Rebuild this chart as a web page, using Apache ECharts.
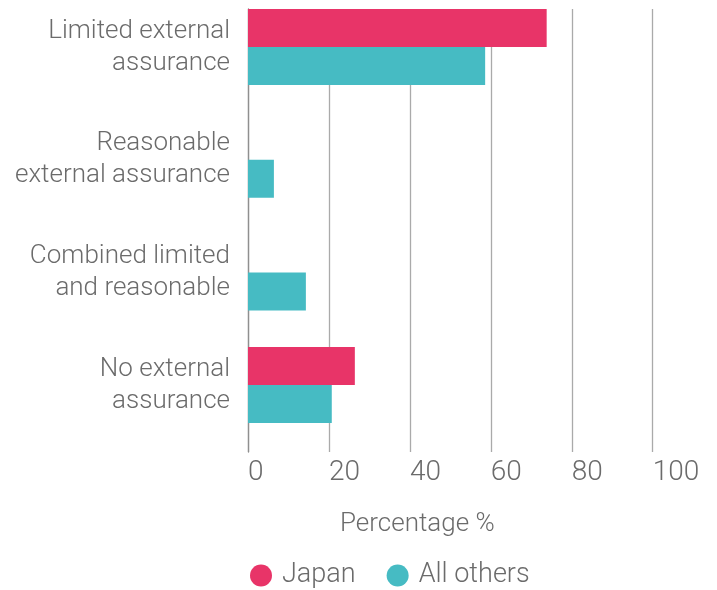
<!DOCTYPE html>
<html>
<head>
<meta charset="utf-8">
<script src="https://cdn.jsdelivr.net/npm/echarts@6/dist/echarts.min.js"></script>
<style>
html,body{margin:0;padding:0;background:#fff;overflow:hidden;}
#wrap{position:relative;width:717px;height:590px;overflow:hidden;}
#chart{position:absolute;left:0;top:-20px;width:717px;height:610px;}
</style>
</head>
<body>
<div id="wrap"><div id="chart"></div></div>
<script>
const categories = ['Limited external\nassurance', 'Reasonable\nexternal assurance', 'Combined limited\nand reasonable', 'No external\nassurance'];
const seriesNames = ['Japan', 'All others'];
const japanValues = [73.8, 0, 0, 26.4];
const othersValues = [58.6, 6.4, 14.3, 20.7];
const xTicks = [0, 20, 40, 60, 80, 100];

const FONT = 'Roboto';
const TEXT = '#6b6b6b';
const chart = echarts.init(document.getElementById('chart'), null, {renderer: 'canvas'});
chart.setOption({
  animation: false,
  color: ['#E83468', '#46BBC3'],
  title: {
    text: 'Percentage %', left: 335, top: 526,
    textStyle: {fontFamily: FONT, fontWeight: 300, fontSize: 26, color: TEXT}
  },
  legend: {
    data: seriesNames, left: 245, top: 577, icon: 'circle',
    itemWidth: 22, itemHeight: 22, itemGap: 31,
    textStyle: {fontFamily: FONT, fontWeight: 300, fontSize: 27, color: TEXT, padding: [0, 0, 0, 5]}
  },
  grid: [
    {left: 248, right: 64.3, top: 10.65, bottom: 148.55},
    {left: 248, right: 64.3, top: 29, bottom: 138}
  ],
  xAxis: [
    {gridIndex: 0, type: 'value', min: 0, max: 100, show: false},
    {gridIndex: 1, type: 'value', min: 0, max: 100, interval: 20,
      axisLine: {show: false}, axisTick: {show: false},
      splitLine: {show: true, lineStyle: {color: '#aaaaaa', width: 1.3}},
      axisLabel: {align: 'left', margin: 7, fontFamily: FONT, fontWeight: 300, fontSize: 28, color: TEXT,
        formatter: v => xTicks.includes(v) ? String(v) : ''}
    }
  ],
  yAxis: [
    {gridIndex: 0, type: 'category', data: categories, inverse: true,
      axisLine: {show: false}, axisTick: {show: false}, splitLine: {show: false},
      axisLabel: {margin: 18, fontFamily: FONT, fontWeight: 300, fontSize: 26, lineHeight: 32, color: TEXT, align: 'right'}
    },
    {gridIndex: 1, type: 'value', min: 0, max: 1,
      axisLine: {show: true, onZero: false, lineStyle: {color: '#8f8f8f', width: 1.3}},
      axisTick: {show: false}, axisLabel: {show: false}, splitLine: {show: false}
    }
  ],
  series: [
    {name: seriesNames[0], type: 'bar', xAxisIndex: 0, yAxisIndex: 0, data: japanValues, barWidth: 38, barGap: '0%', z: 5},
    {name: seriesNames[1], type: 'bar', xAxisIndex: 0, yAxisIndex: 0, data: othersValues, barWidth: 38, barGap: '0%', z: 5}
  ]
});
</script>
</body>
</html>
